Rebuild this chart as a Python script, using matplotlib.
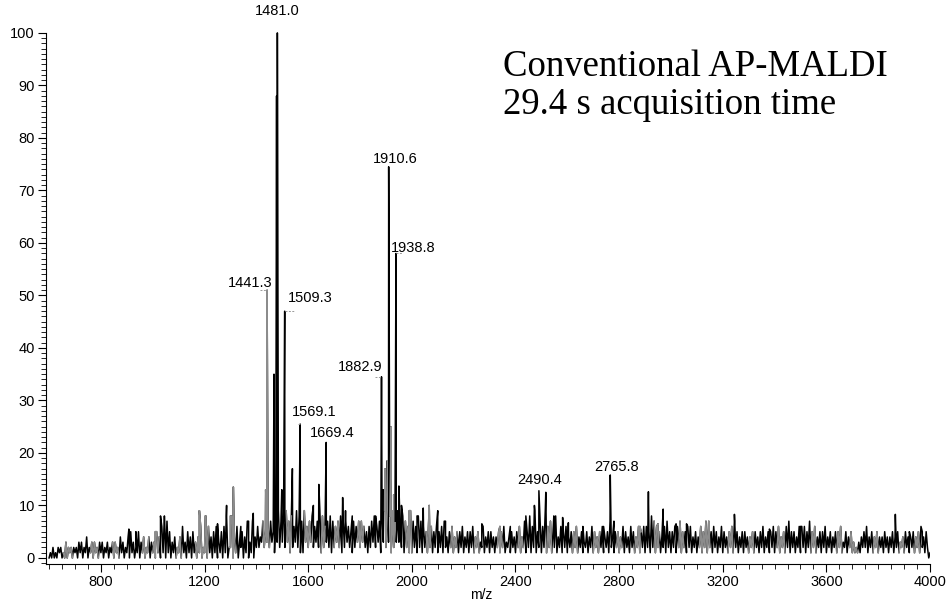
import matplotlib
matplotlib.use("Agg")
import matplotlib.pyplot as plt
from matplotlib.ticker import MultipleLocator
import numpy as np

# noise baseline, one string per 100 m/z, one digit every 5 m/z
noise_start = 600
noise_step = 5
noise_rows = [
    "01020102120103021202",  # 600
    "12031302140213031203",  # 700
    "13021302130312041302",  # 800
    "14051302150314021403",  # 900
    "13051406180715031402",  # 1000
    "14061305140513041602",  # 1100
    "18061405160315061802",  # 1200
    "28041603250417031704",  # 1300
    "26243725362735183927",  # 1400
    "38293718263928171936",  # 1500
    "27382637291826372817",  # 1600
    "26372817273625172637",  # 1700
    "27362516273826371839",  # 1800
    "29381927393628172619",  # 1900
    "17261827162517261526",  # 2000
    "15261724152614251526",  # 2100
    "14251526142513261425",  # 2200
    "15241425152613241524",  # 2300
    "15261427152816291527",  # 2400
    "16291627152814261526",  # 2500
    "14251526142513251426",  # 2600
    "15241526142517241525",  # 2700
    "14261524162514261526",  # 2800
    "16251827162514261725",  # 2900
    "15261627152516261425",  # 3000
    "14261527162516251426",  # 3100
    "15241526172514251524",  # 3200
    "14251524152614251526",  # 3300
    "15261425162715251426",  # 3400
    "16261527152614251526",  # 3500
    "14251425152613251425",  # 3600
    "13121314252614251425",  # 3700
    "14241524142514251324",  # 3800
    "15241425142516241520",  # 3900
]

# labelled peaks
peak_mz = [1441.3, 1481.0, 1509.3, 1569.1, 1669.4, 1882.9, 1910.6, 1938.8, 2490.4, 2765.8]
peak_int = [51, 100, 47, 25.5, 22, 34.5, 74.5, 58, 12.8, 15.8]
peak_lbl = ["1441.3", "1481.0", "1509.3", "1569.1", "1669.4", "1882.9", "1910.6", "1938.8", "2490.4", "2765.8"]

# other spikes above the noise
spike_mz = [908, 935, 1010, 1030, 1046, 1115, 1180, 1203, 1250, 1285, 1300, 1311, 1340, 1370,
            1388, 1436, 1468, 1478, 1498, 1539, 1620, 1641, 1733, 1744, 1770, 1860, 1890,
            1896, 1905, 1920, 1930, 1950, 1960, 1990, 2020, 2044, 2067, 2100, 2130, 2235,
            2270, 2340, 2380, 2440, 2473, 2517, 2548, 2582, 2604, 2660, 2740, 2780, 2880,
            2913, 2950, 2970, 3020, 3060, 3146, 3245, 3380, 3500, 3515, 3866, 3920, 3970]
spike_int = [5.5, 5, 5, 8, 7, 6, 9, 8, 6.5, 10, 8, 13.5, 6, 7,
             8.5, 13, 35, 88, 13, 17, 10, 14, 11.5, 9, 8, 8, 13,
             17, 18.5, 25, 12, 13.7, 10, 9, 8, 9.5, 10, 9, 7, 6,
             6.5, 6, 6, 8, 10, 12.5, 8, 7.7, 6.7, 6, 6, 7, 6,
             12.6, 6.5, 9.3, 6.5, 6.5, 7, 8.3, 5.5, 6, 6, 8.3, 5, 5]

# parts of the trace printed in grey
gray_ranges = [(655, 690), (760, 790), (845, 870), (960, 985), (1000, 1025), (1090, 1110),
               (1165, 1215), (1295, 1320), (1425, 1450), (1515, 1535), (1585, 1610),
               (1650, 1665), (1700, 1720), (1790, 1815), (1893, 1906), (1913, 1932),
               (1975, 2000), (2055, 2075), (2150, 2175), (2240, 2260), (2330, 2350),
               (2410, 2430), (2520, 2540), (2620, 2640), (2700, 2725), (2790, 2810),
               (2860, 2885), (2935, 2955), (3030, 3050), (3110, 3150), (3220, 3240),
               (3300, 3320), (3410, 3440), (3540, 3560), (3640, 3660), (3690, 3720),
               (3780, 3800), (3880, 3900), (3940, 3960)]

# build the trace
mz = []
inten = []
for r, row in enumerate(noise_rows):
    for i, c in enumerate(row):
        mz.append(noise_start + r * 100 + i * noise_step)
        inten.append(float(c))
mz.append(4000)
inten.append(1.0)
mz = mz + peak_mz + spike_mz
inten = inten + peak_int + spike_int
order = np.argsort(mz)
mz = np.array(mz)[order]
inten = np.array(inten)[order]

fig = plt.figure(figsize=(9.5, 6.01), dpi=100)
ax = fig.add_axes([0.0484, 0.0616, 0.9306, 0.888])

ax.plot(mz, inten, color="black", lw=1.1)
for a, b in gray_ranges:
    m = (mz >= a) & (mz <= b)
    ax.plot(mz[m], inten[m], color="#8c8c8c", lw=1.1)

# labels (x centre, y centre in data units)
lbl_pos = {
    "1441.3": (1377, 52.3), "1481.0": (1481, 104.2), "1509.3": (1609, 49.6),
    "1569.1": (1624, 27.8), "1669.4": (1693, 23.8), "1882.9": (1802, 36.3),
    "1910.6": (1935, 76.0), "1938.8": (2005, 59.1), "2490.4": (2494, 14.9),
    "2765.8": (2791, 17.4),
}
for x, y, t in zip(peak_mz, peak_int, peak_lbl):
    tx, ty = lbl_pos[t]
    ax.text(tx, ty, t, ha="center", va="center", fontsize=10.5,
            family="Liberation Sans", clip_on=False)

# dotted leaders next to some labels
leaders = [(1415, 1441.3, 51), (1509.3, 1545, 47), (1562, 1569.1, 25.5),
           (1858, 1882.9, 34.5), (1938.8, 1962, 58)]
for a, b, y in leaders:
    ax.plot([a, b], [y, y], color="#999999", lw=0.7, ls=(0, (2, 1.5)))

ax.set_xlim(588, 4000)
ax.set_ylim(-1.15, 100.5)
ax.spines["top"].set_visible(False)
ax.spines["right"].set_visible(False)
ax.spines["left"].set_bounds(-1.15, 100)

ax.xaxis.set_minor_locator(MultipleLocator(50))
ax.set_xticks(np.arange(800, 4001, 400))
ax.yaxis.set_minor_locator(MultipleLocator(1))
ax.set_yticks(np.arange(0, 101, 10))
ax.tick_params(axis="both", which="major", labelsize=10.5, length=6, width=0.8, pad=2)
ax.tick_params(axis="both", which="minor", length=3.5, width=0.6)
for lab in ax.get_xticklabels() + ax.get_yticklabels():
    lab.set_family("Liberation Sans")

ax.text(0.492, -0.045, "m/z", transform=ax.transAxes, ha="center", va="top",
        fontsize=10, family="Liberation Sans")

fig.text(503 / 950, 1 - 50 / 601, "Conventional AP-MALDI\n29.4 s acquisition time",
         ha="left", va="top", fontsize=26.5, family="Liberation Serif", linespacing=1.1)

fig.savefig("out.png", dpi=100)
